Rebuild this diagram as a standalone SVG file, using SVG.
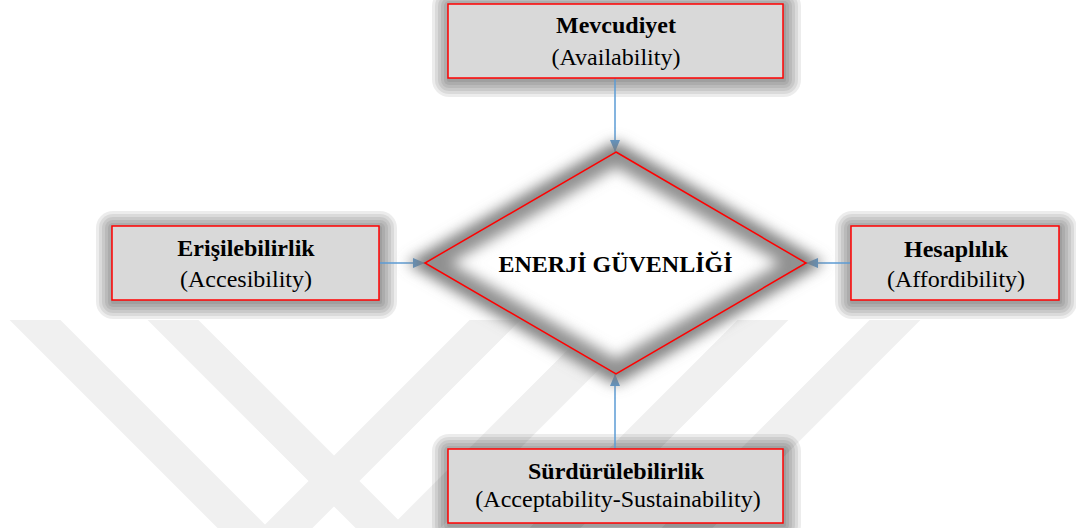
<svg xmlns="http://www.w3.org/2000/svg" width="1076" height="528" viewBox="0 0 1076 528">
<defs>
<style>
.box{fill:#d9d9d9;stroke:#ff0000;stroke-width:1.5}
.sh rect{fill:#000000;fill-opacity:0.075}
text{font-family:"Liberation Serif","DejaVu Serif","Times New Roman",serif;font-size:24px;fill:#000;text-anchor:middle}
.b{font-weight:bold}
.wm{stroke:#f0f0f0;stroke-width:36;fill:none}
.conn{stroke:#5b9bd5;stroke-width:1.5;fill:none}
</style>
<filter id="dblur" filterUnits="userSpaceOnUse" x="0" y="0" width="1076" height="528"><feGaussianBlur stdDeviation="7"/></filter>
<clipPath id="wmclip"><rect x="0" y="320" width="1076" height="208"/></clipPath>
<clipPath id="dclip"><polygon points="616,152 806,263 616,374 425,263"/></clipPath>
<marker id="arr" markerWidth="12" markerHeight="10" refX="12" refY="5" orient="auto" markerUnits="userSpaceOnUse">
<path d="M0,0 L12,5 L0,10 Z" fill="#5b9bd5"/>
</marker>
</defs>
<rect width="1076" height="528" fill="#ffffff"/>
<g id="watermark" clip-path="url(#wmclip)">
<line class="wm" x1="10" y1="295" x2="285" y2="570"/>
<line class="wm" x1="148" y1="295" x2="423" y2="570"/>
<line class="wm" x1="520" y1="295" x2="245" y2="570"/>
<line class="wm" x1="648" y1="295" x2="373" y2="570"/>
<line class="wm" x1="788" y1="295" x2="513" y2="570"/>
<line class="wm" x1="920" y1="295" x2="645" y2="570"/>
</g>
<g id="shadows">
<g class="sh" transform="translate(448 4)">
<rect x="-1" y="0" width="339" height="78" rx="2"/>
<rect x="-4" y="-3" width="345" height="84" rx="5"/>
<rect x="-7" y="-6" width="351" height="90" rx="8"/>
<rect x="-10" y="-9" width="357" height="96" rx="11"/>
<rect x="-13" y="-12" width="363" height="102" rx="14"/>
<rect x="-16" y="-15" width="369" height="108" rx="17"/>
</g>
<g class="sh" transform="translate(112 226)">
<rect x="-1" y="0" width="271" height="78" rx="2"/>
<rect x="-4" y="-3" width="277" height="84" rx="5"/>
<rect x="-7" y="-6" width="283" height="90" rx="8"/>
<rect x="-10" y="-9" width="289" height="96" rx="11"/>
<rect x="-13" y="-12" width="295" height="102" rx="14"/>
<rect x="-16" y="-15" width="301" height="108" rx="17"/>
</g>
<g class="sh" transform="translate(851 226)">
<rect x="-1" y="0" width="212" height="78" rx="2"/>
<rect x="-4" y="-3" width="218" height="84" rx="5"/>
<rect x="-7" y="-6" width="224" height="90" rx="8"/>
<rect x="-10" y="-9" width="230" height="96" rx="11"/>
<rect x="-13" y="-12" width="236" height="102" rx="14"/>
<rect x="-16" y="-15" width="242" height="108" rx="17"/>
</g>
<g class="sh" transform="translate(448 449)">
<rect x="-1" y="0" width="339" height="78" rx="2"/>
<rect x="-4" y="-3" width="345" height="84" rx="5"/>
<rect x="-7" y="-6" width="351" height="90" rx="8"/>
<rect x="-10" y="-9" width="357" height="96" rx="11"/>
<rect x="-13" y="-12" width="363" height="102" rx="14"/>
<rect x="-16" y="-15" width="369" height="108" rx="17"/>
</g>
</g>
<g id="connectors">
<line class="conn" x1="615" y1="78" x2="615" y2="152" marker-end="url(#arr)"/>
<line class="conn" x1="379" y1="263" x2="425" y2="263" marker-end="url(#arr)"/>
<line class="conn" x1="851" y1="263" x2="806" y2="263" marker-end="url(#arr)"/>
<line class="conn" x1="615" y1="449" x2="615" y2="374" marker-end="url(#arr)"/>
</g>
<g id="center">
<polygon points="616,152 806,263 616,374 425,263" fill="none" stroke="#7a7a7a" stroke-width="18" filter="url(#dblur)"/>
<polygon points="616,152 806,263 616,374 425,263" fill="#ffffff"/>
<g clip-path="url(#dclip)"><polygon points="616,152 806,263 616,374 425,263" fill="none" stroke="#909090" stroke-width="26" filter="url(#dblur)"/></g>
<polygon points="616,152 806,263 616,374 425,263" fill="none" stroke="#ff0000" stroke-width="1.5"/>
<text class="b" x="615.5" y="272">ENERJİ GÜVENLİĞİ</text>
</g>
<g id="top">
<rect class="box" x="448" y="4" width="335" height="74"/>
<text class="b" x="616" y="33">Mevcudiyet</text>
<text x="616" y="65">(Availability)</text>
</g>
<g id="left">
<rect class="box" x="112" y="226" width="267" height="74"/>
<text class="b" x="246" y="256">Erişilebilirlik</text>
<text x="246" y="287">(Accesibility)</text>
</g>
<g id="right">
<rect class="box" x="851" y="226" width="208" height="74"/>
<text class="b" x="956" y="257">Hesaplılık</text>
<text x="956" y="287">(Affordibility)</text>
</g>
<g id="bottom">
<rect class="box" x="448" y="449" width="335" height="74"/>
<text class="b" x="616" y="479">Sürdürülebilirlik</text>
<text x="618" y="507">(Acceptability-Sustainability)</text>
</g>
</svg>
